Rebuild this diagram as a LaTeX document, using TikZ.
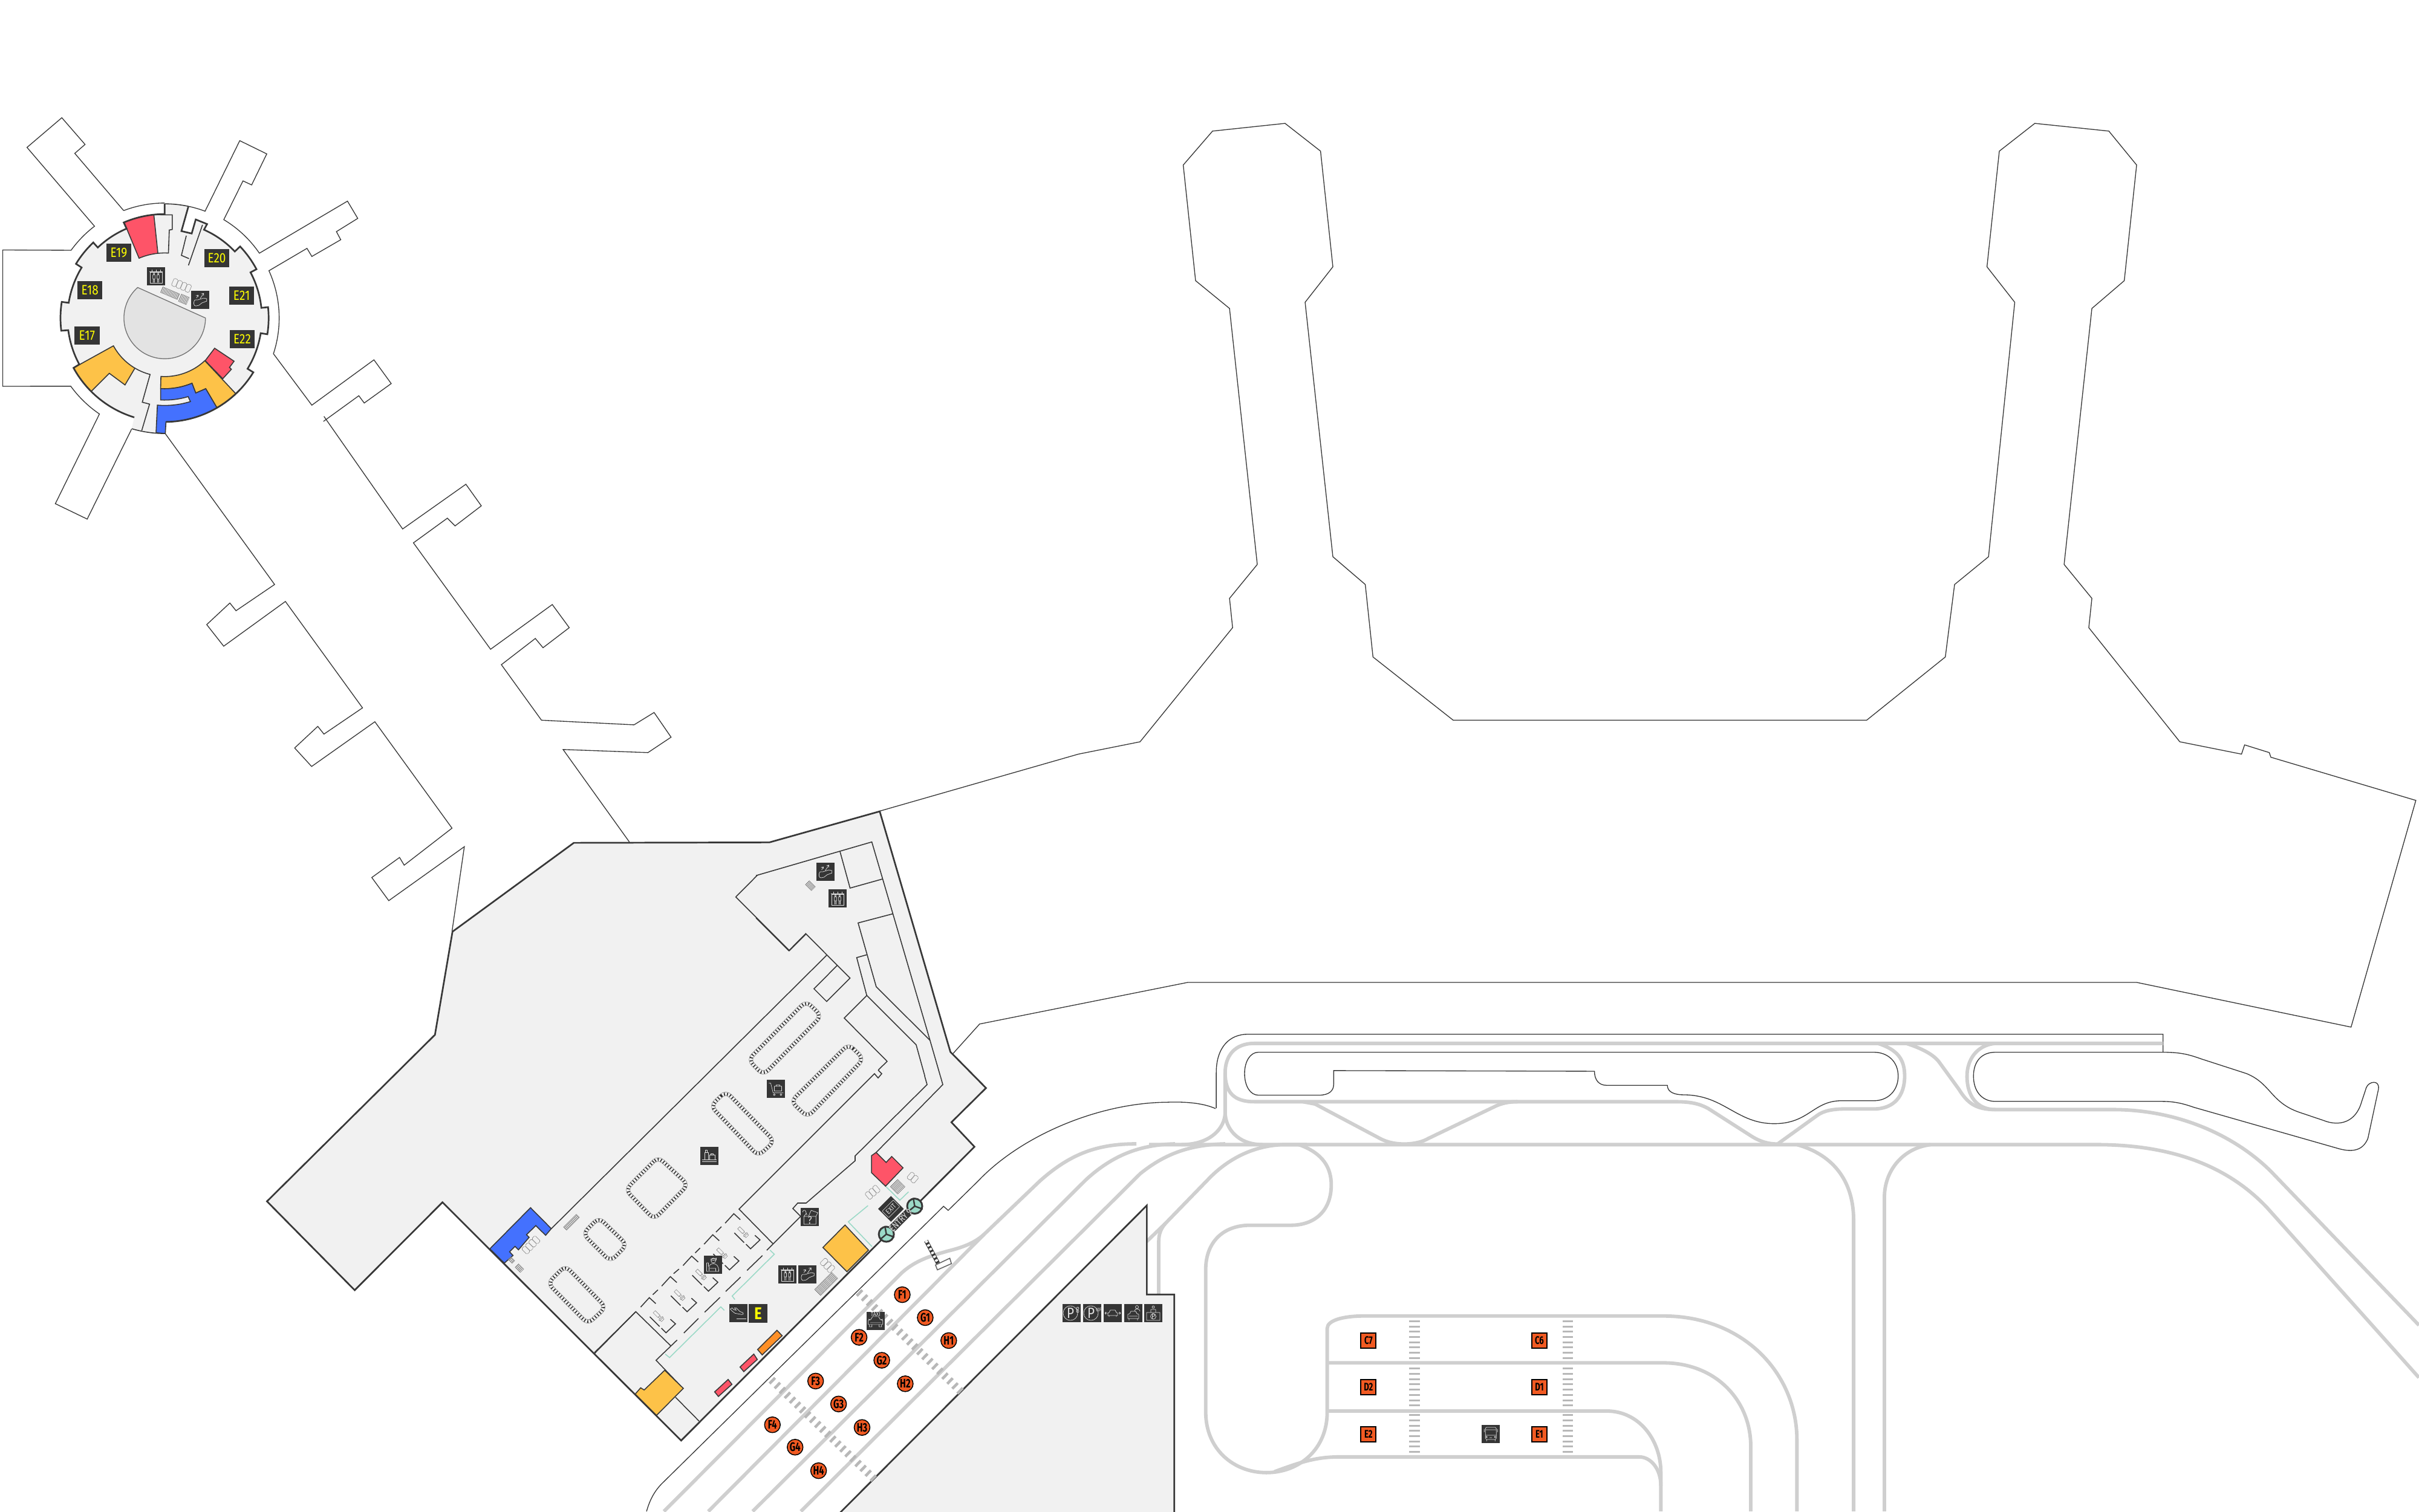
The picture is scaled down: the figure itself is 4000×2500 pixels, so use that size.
\documentclass[tikz,border=0pt]{standalone}
\usepackage{fontspec}
\setmainfont{Fira Sans}
\newfontfamily\dinf[FakeStretch=0.84]{Fira Sans}
\newfontfamily\dinb[FakeStretch=0.72]{Fira Sans}
\definecolor{floorc}{HTML}{F1F1F1}
\definecolor{wallc}{HTML}{383838}
\definecolor{iconbg}{HTML}{353535}
\definecolor{roadc}{HTML}{CFCFCF}
\definecolor{walkc}{HTML}{B8B8B8}
\definecolor{redc}{HTML}{FE5468}
\definecolor{bluec}{HTML}{4471FE}
\definecolor{yelc}{HTML}{FDC248}
\definecolor{orgc}{HTML}{FF9027}
\definecolor{pinc}{HTML}{F15A22}
\definecolor{tealc}{HTML}{9BD9C7}
\definecolor{discc}{HTML}{E3E3E3}
\definecolor{gyl}{HTML}{FFFF00}
\newcommand\rp[2]{([shift={(610,775)}]#1:#2)}
\newcommand\ar[3]{arc[start angle=#1,end angle=#2,radius=#3]}
\newcommand\carousel[1]{\draw[cara] #1; \draw[carb] #1;}
\tikzset{
 zoneO/.style={x=0.25510mm,y=-0.25510mm},
 zoneA/.style={shift={(0mm,-18mm)},x=0.04464mm,y=-0.04464mm},
 zoneB/.style={shift={(40mm,-130mm)},x=0.08292mm,y=-0.07653mm},
 zoneC/.style={shift={(100mm,-180mm)},x=0.04464mm,y=-0.04464mm},
 zoneD/.style={shift={(190mm,-165mm)},x=0.13393mm,y=-0.05420mm},
 zoneE/.style={shift={(105mm,-175mm)},x=0.06378mm,y=-0.04783mm},
 zoneF/.style={shift={(125mm,-138mm)},x=0.03333mm,y=-0.03333mm},
 zoneG/.style={shift={(78mm,-196mm)},x=0.03333mm,y=-0.03333mm},
 wall/.style={draw=wallc,line width=.77pt,line join=miter},
 inner/.style={draw=wallc,line width=.45pt,line join=miter},
 hair/.style={draw=wallc,line width=.38pt,line join=miter},
 road/.style={draw=roadc,line width=1.65pt},
 teal/.style={draw=tealc,line width=.45pt},
 cross/.style={draw=walkc,line width=3.7pt,dash pattern=on 1.3pt off 2pt},
 crossv/.style={draw=walkc,line width=5pt,dash pattern=on .85pt off 1.62pt},
 cara/.style={draw=black!45,line width=.2pt,double=floorc,double distance=1.5pt,rounded corners=3pt},
 carb/.style={draw=black!82,line width=1.5pt,dash pattern=on .45pt off 1pt,rounded corners=3pt},
 gatebox/.style={fill=iconbg,text=gyl,font=\dinf\fontsize{6.4}{7}\selectfont,minimum width=4.15mm,minimum height=3mm,inner sep=0pt},
 stand/.style={circle,fill=pinc,draw=black,line width=.42pt,text=black,font=\dinb\bfseries\fontsize{5.8}{6}\selectfont,minimum size=2.6mm,inner sep=0pt},
 bay/.style={fill=pinc,draw=black,line width=.55pt,text=black,font=\dinb\bfseries\fontsize{5.2}{6}\selectfont,minimum size=2.5mm,inner sep=0pt},
 turn/.style={circle,fill=tealc,draw=wallc,line width=.85pt,minimum size=2.5mm,inner sep=0pt},
 gl/.style={draw=white!88!black,line width=.2pt,line join=round},
 doodle/.style={draw=black!45,line width=.18pt},
 pics/iel/.style={code={\begin{scope}[x=.1mm,y=-.1mm]
   \fill[iconbg](-15,-15)rectangle(15,15);
   \draw[gl](-10,-7)rectangle(10,11) (-7,-11)--(-7,-8) (0,-11)--(0,-8) (7,-11)--(7,-8) (-11,-8)--(11,-8);
   \foreach \i in {-3.5,3.5}{\draw[gl](\i,-4.5)circle(1.3) (\i-1.8,-2.5)rectangle(\i+1.8,4) (\i-1,4)--(\i-1,10) (\i+1,4)--(\i+1,10);}
   \end{scope}}},
 pics/ies/.style={code={\begin{scope}[x=.1mm,y=-.1mm]
   \fill[iconbg](-15,-15)rectangle(15,15);
   \draw[gl](-10,3)..controls(-10,-1)and(-6,0)..(-4,0)--(6,-3)--(11,-2)--(11,2)--(3,5)--(-2,9)--(-7,10)..controls(-10,10)and(-11,6)..(-10,3);
   \draw[gl](-6,-3)--(-3,-8) (-7,-7)--(-3,-8)--(-3,-5) (0,-2)--(6,-11) (2,-10)--(6,-11)--(6,-7);
   \end{scope}}},
 pics/ibag/.style={code={\begin{scope}[x=.1mm,y=-.1mm]
   \fill[iconbg](-15,-15)rectangle(15,15);
   \draw[gl](-12,7)--(12,7) (-12,10)--(12,10) (-8,-5)rectangle(-2,7) (-6.5,-5)--(-6.5,-9)--(-3.5,-9)--(-3.5,-5) (0,-1)rectangle(9,7) (2.5,-1)--(2.5,-3)--(6.5,-3)--(6.5,-1);
   \end{scope}}},
 pics/itro/.style={code={\begin{scope}[x=.1mm,y=-.1mm]
   \fill[iconbg](-15,-15)rectangle(15,15);
   \draw[gl](-12,-9)--(-9,-9)--(-5,7)--(12,7) (-3,-4)rectangle(9,4) (0,-4)--(0,-6)--(6,-6)--(6,-4) (-3,10)circle(1.5) (8,10)circle(1.5);
   \end{scope}}},
 pics/ioff/.style={code={\begin{scope}[x=.1mm,y=-.1mm]
   \fill[iconbg](-15,-15)rectangle(15,15);
   \draw[gl](1,-7)circle(4) (-4,-9)--(6,-11)--(6,-8)--(-3,-7) (-6,10)--(-6,4)..controls(-6,0)and(-3,-1)..(1,-2)..controls(6,-1)and(10,1)..(10,11)--(-10,11)--(-10,-3)--(-7,-3)--(-7,3) (-5,6)--(5,6)--(5,11);
   \end{scope}}},
 pics/ilost/.style={code={\begin{scope}[x=.1mm,y=-.1mm]
   \fill[iconbg](-15,-15)rectangle(15,15);
   \draw[gl](-10,-1)rectangle(10,12) (-10,-1)--(-6,-6) (10,-1)--(13,-7)--(2,-11)--(-2,-2) (-12,-8)..controls(-12,-12)and(-7,-12)..(-7,-9)--(-5,-3);
   \node[text=white!88!black,font=\dinf\fontsize{5}{5}\selectfont,inner sep=0pt] (lostq) at (0,5.5) {?};
   \end{scope}}},
 pics/iarr/.style={code={\begin{scope}[x=.1mm,y=-.1mm]
   \fill[iconbg](-15,-15)rectangle(15,15);
   \draw[gl](-13,-7)--(-10,-9)--(-7,-6)--(-3,-5)--(-6,-9)--(-3,-9)--(3,-3)--(8,-1)..controls(10,1)and(8,2)..(6,2)--(-5,0)--(-9,-3)--cycle;
   \draw[gl](-3,9)--(13,9);
   \end{scope}}},
 pics/itaxi/.style={code={\begin{scope}[x=.1mm,y=-.1mm]
   \fill[iconbg](-15,-15)rectangle(15,15);
   \node[text=white!88!black,font=\dinf\fontsize{2.9}{3}\selectfont,inner sep=0pt] (taxit) at (0,-11) {TAXI};
   \draw[gl](-8,-2)--(-5,-7)--(5,-7)--(8,-2)--(12,-1)--(12,6)--(-12,6)--(-12,-1)--cycle (-12,-3)--(-9,-2) (12,-3)--(9,-2) (-10,6)--(-10,10)--(-6,10)--(-6,6) (10,6)--(10,10)--(6,10)--(6,6) (-9,3)--(9,3);
   \end{scope}}},
 pics/ibus/.style={code={\begin{scope}[x=.1mm,y=-.1mm]
   \fill[iconbg](-15,-15)rectangle(15,15);
   \draw[gl,rounded corners=.5pt](-9,-11)rectangle(9,9);
   \draw[gl](-9,-7)--(9,-7) (-9,2)--(9,2) (-11,-8)--(-11,-3) (11,-8)--(11,-3) (-7,5)circle(1.2) (7,5)circle(1.2) (-2,6)--(2,6) (-7,9)--(-7,12) (7,9)--(7,12);
   \end{scope}}},
 pics/ipark/.style={code={\begin{scope}[x=.1mm,y=-.1mm]
   \fill[iconbg](-15,-15)rectangle(15,15);
   \draw[gl](-2,0)circle(12);
   \node[text=white!88!black,font=\dinf\fontsize{7}{7}\selectfont,inner sep=0pt] at (-2,0) {P};
   #1
   \end{scope}}},
 pics/icar/.style={code={\begin{scope}[x=.1mm,y=-.1mm]
   \fill[iconbg](-15,-15)rectangle(15,15);
   \draw[gl](-6,-1)--(-4,-5)--(4,-5)--(6,-1)--(8,0)--(8,4)--(-8,4)--(-8,0)--cycle (-6,4)--(-6,6) (6,4)--(6,6) (-13,0)--(-9,0) (9,0)--(13,0) (-11,-2)--(-13,0)--(-11,2) (11,-2)--(13,0)--(11,2);
   \end{scope}}},
 pics/ival/.style={code={\begin{scope}[x=.1mm,y=-.1mm]
   \fill[iconbg](-15,-15)rectangle(15,15);
   \draw[gl](-6,1)--(-4,-3)--(4,-3)--(6,1)--(9,2)--(9,9)--(-9,9)--(-9,2)--cycle (-7,9)--(-7,12) (7,9)--(7,12) (-7,5)--(7,5);
   \draw[gl](6,-10)circle(2.5) (2,-3)..controls(2,-6)and(4,-7)..(6,-7)..controls(9,-7)and(11,-6)..(11,-3);
   \end{scope}}},
 pics/itick/.style={code={\begin{scope}[x=.1mm,y=-.1mm]
   \fill[iconbg](-15,-15)rectangle(15,15);
   \draw[gl](0,-10)circle(2) (-4,-6)rectangle(4,-1) (-11,-1)rectangle(11,12) (0,5.5)circle(4.5);
   \node[text=white!88!black,font=\dinf\fontsize{3.5}{3.5}\selectfont,inner sep=0pt] at (0,5.5) {P};
   \end{scope}}},
 pics/hatch/.style 2 args={code={\begin{scope}[x=.1mm,y=-.1mm]
   \draw[draw=black!55,line width=#2*.1mm,dash pattern=on .25pt off .42pt](-#1/2,0)--(#1/2,0);
   \draw[doodle](-#1/2,-#2/2)rectangle(#1/2,#2/2);
   \end{scope}}},
 pics/seats/.style={code={\begin{scope}[x=.1mm,y=-.1mm]
   \foreach \i in {1,...,#1}{\draw[doodle,fill=floorc,rounded corners=.5pt](\i*8-4-#1*4,-6)rectangle++(7.5,13);}
   \end{scope}}},
 pics/scanner/.style={code={\begin{scope}[x=.1mm,y=-.1mm]
   \draw[doodle](-10,-2.5)rectangle(1,2.5) (1,-1.5)rectangle(5,1.5) (5,-4)rectangle(7,4) (7,-3)rectangle(10,3);
   \end{scope}}},
}
\begin{document}
\begin{tikzpicture}[x=.1mm,y=-.1mm]
\useasboundingbox (0,0) rectangle (4000,2500);
\fill[white] (0,0) rectangle (4000,2500);

% ---------- pier outline
\begin{scope}[zoneO]
\draw[hair] (570,526)--(699,489)--(739,481)--(799,407)--(797,388)--(815,366)--(797,200)--(775,182)--(767,107)--(786,85)--(833,80)--(856,98)--(864,173)--(846,196)--(864,361)--(885,379)--(890,426)--(942,467)--(1210,467)--(1261,426)--(1267,379)--(1289,361)--(1306,196)--(1288,173)--(1296,98)--(1319,80)--(1367,85)--(1385,107)--(1377,182)--(1356,200)--(1338,366)--(1356,388)--(1354,407)--(1413,481)--(1453,489)--(1455,483)--(1471,488)--(1472,491)--(1566,519)--(1524,666)--(1385,637)--(770,637)--(635,664)--(617,684);
\draw[hair] (210,270)--(261,343)--(302,314)--(312,328)--(295,341)--(290,336)--(268,352)--(318,421)--(358,392)--(369,407)--(352,420)--(347,414)--(325,431)--(351,467)--(411,470)--(424,462)--(435,478)--(420,488)--(365,486)--(408,546);
\draw[hair] (107,281)--(178,379)--(153,396)--(149,391)--(134,405)--(145,419)--(185,390)--(235,459)--(210,476)--(206,471)--(191,485)--(202,497)--(243,468)--(293,537)--(262,561)--(259,556)--(241,569)--(252,584)--(301,549)--(293,604);
\end{scope}

% ---------- rotunda
\begin{scope}[zoneA]
\draw[hair] \rp{249.1}{426}--(277,165)--(315,132)--(229,33)--(100,143)--\rp{232.6}{428} \ar{232.6}{215.9}{428} --(10,523)--(10,1028)--\rp{144}{430} \ar{144}{124.2}{430} --(205,1463)--(323,1520)--\rp{106.6}{430};
\draw[hair] \rp{249.1}{426} \ar{249.1}{270}{426};
\draw[hair] \rp{282}{423} \ar{282}{290.7}{423} --(888,118)--(988,167)--(932,282)--(900,267)--\rp{301}{425} \ar{301}{325.6}{425} --(1287,342)--(1325,406)--(1246,455)--(1262,485)--(1155,547)--(1137,517)--\rp{335.6}{424} \ar{335.6}{378.2}{424} --(1155,1098)--(1385,930)--(1449,1018)--(1349,1090)--(1329,1063)--(1198,1158);
\def\ra{\rp{282}{423}--(672,453)--(710,462)--(725,410)--(767,427)--\rp{294}{358} \ar{294}{316.5}{358} --\rp{316.5}{385} \ar{316.5}{332}{385} --\rp{332}{360} \ar{332}{354}{360} --\rp{354}{385} \ar{354}{369}{385} --\rp{369}{360} \ar{369}{391.5}{360} --\rp{391.5}{385} \ar{391.5}{449.3}{385}}
\def\rb{\rp{467}{385} \ar{467}{511.3}{385} --\rp{511.5}{360} \ar{511.5}{532.8}{360} --\rp{533}{386} \ar{533}{548.9}{386} --\rp{549}{360} \ar{549}{571.3}{360} --\rp{571.4}{385} \ar{571.4}{586.6}{385} --\rp{586.5}{360} \ar{586.5}{606.9}{360} --\rp{606.8}{385} \ar{606.8}{630}{385} --\rp{270}{423}}
\fill[floorc] \ra --\rp{449.7}{428} \ar{449.7}{466.6}{428} --\rb \ar{270}{282}{423} --cycle;
% colour blocks
\draw[inner,fill=redc] \rp{247}{385} \ar{247}{264}{385} --\rp{264}{241} \ar{264}{246.8}{241} --cycle;
\draw[inner] \rp{264}{385}--(638,393)--(638,447)--(627,449)--\rp{273.3}{241} \ar{273.3}{264}{241};
\draw[inner] (700,555)--(672,543)--(690,470) (750,430)--(698,580);
\draw[inner,fill=yelc] \rp{151.3}{385}--\rp{151.5}{216} \ar{151.5}{120.7}{216} --(463,1023)--(405,980)--\rp{135}{385} \ar{135}{151.3}{385} --cycle;
\draw[inner] \rp{120.7}{216} \ar{120.7}{104.5}{216} --(527,1087)--(554,1094)--(525,1192);
\draw[inner,fill=yelc] \rp{93.7}{217} \ar{93.7}{46.8}{217} --\rp{46.8}{385} \ar{46.8}{59.8}{385} --(762,1037)--(725,1053)--\rp{67.3}{262} \ar{67.3}{93.3}{262} --cycle;
\draw[inner,fill=bluec] \rp{93.3}{262} \ar{93.3}{67.3}{262} --(725,1053)--(762,1037)--\rp{59.8}{385} \ar{59.8}{89.3}{385} --\rp{89.7}{428}--(578,1200)--\rp{94.8}{324} \ar{94.8}{72.9}{324} --\rp{73.4}{304} \ar{73.4}{92.8}{304} --cycle;
\draw[inner,fill=redc] (795,887)--(867,935)--(850,958)--(857,965)--(825,1000)--(760,933)--cycle;
% walls
\draw[wall] \ra;
\draw[wall] \rb;
\draw[inner] \rp{270}{423} \ar{270}{282}{423};
\draw[inner] \rp{89.7}{428} \ar{89.7}{106.6}{428};
% central disc
\draw[hair,draw=black!55,fill=discc] \rp{228.5}{151} \ar{228.5}{0}{151} --cycle;
% stairs near the disc
\path (665,650) pic[rotate=-23] {seats=4};
\path (630,683) pic[rotate=-23] {hatch={30}{10}};
\path (681,706) pic[rotate=-23] {hatch={14}{13}};
% labels
\node[gatebox] (e19) at (440,533) {E19};
\node[gatebox] (e20) at (803,553) {E20};
\node[gatebox] (e21) at (895,692) {E21};
\node[gatebox] (e22) at (897,853) {E22};
\node[gatebox] (e18) at (333,672) {E18};
\node[gatebox] (e17) at (322,840) {E17};
\path (578,621) pic {iel};
\path (741,708) pic {ies};
\end{scope}

% ---------- lower grey block and roads
\begin{scope}[zoneE]
\draw[hair] (30,1568)..controls(40,1520)and(55,1490)..(75,1465)--(800,513)--(812,527)--(890,425)..controls(1000,270)and(1200,155)..(1380,153)..controls(1440,150)and(1480,160)..(1505,175);
\draw[road] (75,1568)--(690,745)..controls(730,695)and(780,680)..(810,668)..controls(850,655)and(880,640)..(905,610)--(1050,425)..controls(1130,330)and(1200,297)..(1300,297);
\draw[road] (190,1568)--(905,610);
\draw[road] (305,1568)--(1170,420)..controls(1240,335)and(1310,300)..(1400,297);
\draw[road] (430,1568)--(1310,400)..controls(1375,330)and(1440,300)..(1530,297);
\end{scope}
\begin{scope}[zoneD]
\draw[hair] (83,338)--(83,230)..controls(83,150)and(100,112)..(122,112)--(1252,112)--(1252,167)..controls(1275,167)and(1285,175)..(1300,188)--(1355,232)..controls(1385,262)and(1385,320)..(1420,350)--(1450,375)..controls(1470,395)and(1490,380)..(1497,320)--(1503,275)..controls(1506,255)and(1520,250)..(1518,280)--(1505,430)..controls(1500,460)and(1490,475)..(1470,462)--(1290,335)..controls(1275,322)and(1265,317)..(1250,317)--(1045,317)..controls(1028,317)and(1018,285)..(1018,240)..controls(1018,195)and(1028,167)..(1045,167)--(1252,167);
\draw[hair] (135,167)--(895,167)..controls(912,167)and(925,195)..(925,240)..controls(925,285)and(912,315)..(895,315)--(855,315)..controls(820,315)and(815,385)..(772,385)..controls(725,385)and(710,297)..(660,297)..controls(650,297)and(640,290)..(640,268)--(565,268)..controls(555,268)and(550,250)..(550,225)--(228,223)--(228,265)..controls(228,285)and(222,298)..(210,298)--(135,298)..controls(125,298)and(118,270)..(118,232)..controls(118,195)and(125,167)..(135,167)--cycle;
\draw[road] (1252,140)--(130,140)..controls(105,140)and(94,180)..(94,230)--(94,350)..controls(94,400)and(75,449)..(40,449);
\draw[road] (94,230)..controls(94,290)and(105,318)..(130,318)--(650,318)..controls(670,318)and(680,325)..(690,338)--(745,425)..controls(755,440)and(765,447)..(775,447);
\draw[road] (94,350)..controls(94,400)and(110,449)..(140,449);
\draw[road] (0,449)--(1170,449)..controls(1260,449)and(1330,510)..(1380,640)--(1568,1160);
\draw[road] (190,318)--(205,325)--(285,430)..controls(295,443)and(305,447)..(315,447)..controls(328,447)and(338,440)..(345,430)--(425,335)..controls(435,322)and(445,318)..(455,318);
\draw[road] (775,449)--(825,360)..controls(833,345)and(845,340)..(860,340)--(895,340)..controls(920,340)and(933,300)..(933,240)..controls(933,190)and(925,160)..(900,140);
\draw[road] (935,140)..controls(960,160)and(970,180)..(975,195)--(1000,280)..controls(1010,320)and(1020,342)..(1045,342)--(1190,342)..controls(1270,342)and(1340,420)..(1385,530)--(1568,1000);
\draw[road] (1045,140)..controls(1022,145)and(1010,190)..(1010,240)..controls(1010,300)and(1022,342)..(1045,342);
\draw[road] (800,449)..controls(845,480)and(870,560)..(870,680)--(870,1568);
\draw[road] (965,449)..controls(930,460)and(908,530)..(908,610)--(908,1568);
\draw[road] (185,449)..controls(215,475)and(225,520)..(225,572)..controls(225,650)and(205,695)..(175,695)--(125,695)..controls(90,695)and(70,750)..(70,830)--(70,1265)..controls(70,1380)and(105,1450)..(145,1450)..controls(185,1450)and(220,1380)..(220,1265)--(220,1010)..controls(220,985)and(240,972)..(265,972)--(635,972)..controls(735,972)and(800,1150)..(800,1350)--(800,1568);
\draw[road] (220,1115)--(635,1115)..controls(700,1115)and(743,1230)..(743,1370)--(743,1568);
\draw[road] (220,1262)--(565,1262)..controls(605,1262)and(632,1350)..(632,1450)--(632,1568);
\draw[road] (155,1447)..controls(185,1420)and(205,1402)..(235,1402)--(605,1402)..controls(620,1402)and(632,1440)..(632,1490);
\draw[road] (195,449)--(165,449)..controls(125,453)and(95,500)..(75,550)--(20,690)--(-3,745);
\draw[road] (20,690)..controls(15,705)and(12,720)..(12,745)--(12,905);
\draw[crossv] (328,985)--(328,1103);
\draw[crossv] (328,1130)--(328,1247);
\draw[crossv] (328,1272)--(328,1390);
\draw[crossv] (517,985)--(517,1103);
\draw[crossv] (517,1130)--(517,1247);
\draw[crossv] (517,1272)--(517,1390);
\node[bay] (c7) at (271,1047) {C7};
\node[bay] (c6) at (482,1047) {C6};
\node[bay] (d2) at (271,1189) {D2};
\node[bay] (d1) at (482,1189) {D1};
\node[bay] (e2) at (271,1333) {E2};
\node[bay] (e1) at (482,1333) {E1};
\path (422,1332) pic {ibus};
\end{scope}
\begin{scope}[zoneE]
\draw[wall,fill=floorc] (1327,510)--(1327,818)--(1398,818)--(1398,1580)--(526,1580)--cycle;
\end{scope}
\path (1772,2172) pic {ipark={\draw[gl](10,-8)circle(2) (10,-3)circle(2);}};
\path (1806,2172) pic {ipark={\node[text=white!88!black,font=\dinf\fontsize{2.4}{3}\selectfont,inner sep=0pt] at (11,-5) {VIP};}};
\path (1840,2172) pic {icar};
\path (1874,2172) pic {ival};
\path (1907,2172) pic {itick};

% ---------- main terminal
\begin{scope}[zoneB]
\draw[wall,fill=floorc] (420,315)--(662,123)--(1052,122)--(1272,55)--(1413,575)--(1484,653)--(1415,727)--(1461,780)--(876,1415)--(400,900)--(225,1090)--(50,898)--(385,538)--cycle;
\draw[inner] (1028,193)--(985,240)--(1092,356)--(1125,320);
\draw[inner] (703,1225)--(785,1137);
\carousel{(1125,465)--(1156,497)--(1040,625)--(1010,592)--cycle}
\carousel{(1210,558)--(1240,590)--(1128,716)--(1095,682)--cycle}
\carousel{(965,660)--(935,692)--(1030,800)--(1062,768)--cycle}
\carousel{(830,802)--(765,873)--(822,937)--(890,862)--cycle}
\carousel{(712,933)--(680,968)--(735,1028)--(768,992)--cycle}
\carousel{(645,1037)--(610,1075)--(690,1163)--(726,1127)--cycle}
\end{scope}
\begin{scope}[zoneF]
\draw[inner] (0,415)--(163,578)--(247,493)--(467,714)--(351,830)--(288,767)--(402,652);
\draw[inner] (0,205)--(575,38)--(863,1020)--(915,1200);
\draw[inner] (417,85)--(467,267)--(628,222);
\draw[inner] (678,395)--(507,440)--(597,757)--(863,1022);
\draw[inner] (550,598)--(500,612)--(550,800)--(795,1045)--(838,1200);
\draw[inner] (550,800)--(438,912)--(651,1127)--(607,1170);
\path (270,255) pic[rotate=-45] {hatch={14}{9}};
\path (344,186) pic {ies};
\path (405,318) pic {iel};
\end{scope}
% interior walls, in sheet pixels
\draw[inner] (1452,1770)--(1458,1776)--(1452,1783)--(1446,1776)--(1222,2000)--(1278,2057);
\draw[inner] (1529,1780)--(1533,1794)--(1414,1912)--(1414,1920)--(1333,1990)--(1319,1990)--(1311,1999)--(1324,2012)--(1279,2057)--(1268,2068);
\draw[inner] (1555,1780)--(1559,1794)--(1449,1906);
\draw[inner] (1367,1580)--(912,2032);
\begin{scope}[zoneG]
\draw[inner,fill=bluec] (292,113)--(395,217)--(367,250)--(318,202)--(272,247)--(285,260)--(232,322)--(215,305)--(188,332)--(205,350)--(162,388)--(90,317)--cycle;
\path (285,305) pic[rotate=45] {seats=4};
\path (495,185) pic[rotate=45] {hatch={30}{7}};
\path (197,373) pic[rotate=-45] {hatch={9}{6}};
\path (237,413) pic[rotate=-45] {hatch={12}{8}};
\end{scope}
\begin{scope}[zoneC]
\draw[inner] (-38,983)--(115,828)--(245,955);
\draw[inner] (268,933)--(190,1008)--(290,1112);
\draw[inner] (262,1145)--(349,1233);
\foreach \dx/\dy in {0/0,-78/78,-156/157,-235/233,-313/311}{
 \begin{scope}[shift={(\dx,\dy)}]
 \draw[inner] (446,500)--(478,465)--(502,487) (480,536)--(516,572) (556,545)--(575,562)--(540,595)--(523,578);
 \path (512,533) pic[rotate=-45] {scanner};
 \end{scope}}
\draw[inner] (432,513)--(412,533) (353,592)--(335,610) (275,670)--(255,687) (197,747)--(178,765);
\draw[inner] (584,620)--(527,675) (503,700)--(448,753) (427,775)--(370,830) (347,853)--(293,907);
\draw[teal] (612,600)--(628,615)--(472,770)--(482,783);
\draw[teal] (443,823)--(430,810)--(240,998)--(224,985);
\draw[teal] (975,435)--(902,495)--(990,587);
\draw[teal] (1042,365)--(1093,415)--(1125,384);
\draw[inner,fill=yelc] (890,507)--(977,600)--(897,680)--(808,590)--cycle;
\draw[inner,fill=yelc] (222,1045)--(291,1112)--(192,1212)--(113,1133)--(133,1110)--(146,1118)--cycle;
\draw[inner,fill=orgc] (638,897)--(657,917)--(583,988)--(566,968)--cycle;
\draw[inner,fill=redc] (552,985)--(565,1005)--(515,1050)--(501,1033)--cycle;
\draw[inner,fill=redc] (457,1079)--(471,1097)--(421,1142)--(407,1125)--cycle;
\draw[inner,fill=redc] (1005,238)--(1042,275)--(1063,253)--(1105,295)--(1040,363)--(988,313)--(988,250)--cycle;
\path (1135,325) pic[rotate=-40] {seats=2};
\path (1085,365) pic[rotate=-45] {hatch={17}{17}};
\path (985,390) pic[rotate=40] {seats=3};
\path (820,650) pic[rotate=-45] {seats=3};
\path (820,725) pic[rotate=45] {hatch={40}{14}};
\draw[cross] (940,755)--(1320,1125);
\draw[cross] (617,1080)--(1000,1450);
% barrier
\draw[wallc,line width=1.9pt] (1190,565)--(1235,650);
\draw[white,line width=1.3pt,dash pattern=on 1pt off 1pt] (1190,565)--(1235,650);
\draw[inner,draw=black!60,fill=white] (1225,655)--(1278,630)--(1284,650)--(1232,673)--cycle;
% entry
\node[turn] (ent1) at (1043,541) {};
\node[turn] (ent2) at (1148,437) {};
\draw[wallc,line width=3.7pt] (ent1)--(ent2);
\foreach \n in {ent1,ent2}{\draw[wallc,line width=.7pt] (\n.center)--(\n.100) (\n.center)--(\n.220) (\n.center)--(\n.340);}
\node[text=white!90!black,rotate=45,font=\dinf\fontsize{4.3}{5}\selectfont,inner sep=0pt] (entxt) at (1096,489) {ENTRY 9};
\node[fill=iconbg,rotate=45,minimum size=3mm,inner sep=0pt] (exitbox) at (1060,447) {};
\node[draw=white!80!black,line width=.2pt,rotate=45,text=white!90!black,font=\dinf\fontsize{3.4}{4}\selectfont,inner sep=.35mm,rounded corners=.2pt] (exittxt) at (1060,447) {EXIT};
% stands
\node[stand] (f1) at (1102,765) {F1};
\node[stand] (g1) at (1187,850) {G1};
\node[stand] (h1) at (1274,935) {H1};
\node[stand] (f2) at (942,923) {F2};
\node[stand] (g2) at (1026,1008) {G2};
\node[stand] (h2) at (1113,1095) {H2};
\node[stand] (f3) at (781,1085) {F3};
\node[stand] (g3) at (866,1170) {G3};
\node[stand] (h3) at (953,1257) {H3};
\node[stand] (f4) at (621,1247) {F4};
\node[stand] (g4) at (705,1330) {G4};
\node[stand] (h4) at (792,1417) {H4};
% icons
\path (388,250) pic {ibag};
\path (400,654) pic {ioff};
\path (760,477) pic {ilost};
\path (677,690) pic {iel};
\path (751,690) pic {ies};
\path (494,834) pic {iarr};
\node[fill=iconbg,text=gyl,font=\dinf\bfseries\fontsize{8}{8}\selectfont,minimum size=3.05mm,inner sep=0pt] (etag) at (568,834) {E};
\path (1003,862) pic {itaxi};
\end{scope}
\begin{scope}[zoneE]
\path (366,106) pic {itro};
\end{scope}
\end{tikzpicture}
\end{document}
